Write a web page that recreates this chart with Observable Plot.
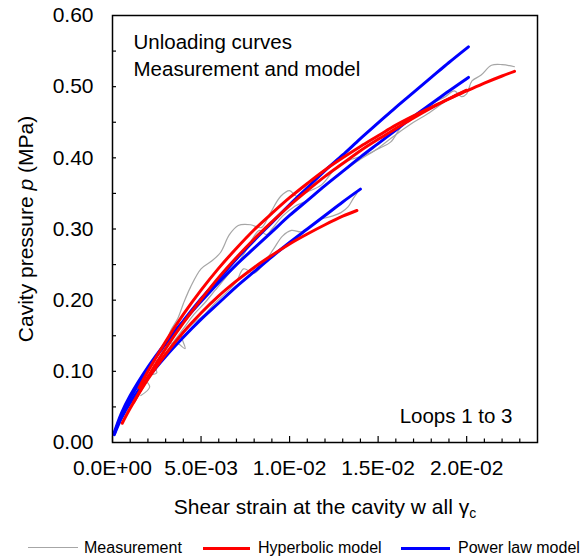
<!DOCTYPE html>
<html>
<head>
<meta charset="utf-8">
<script src="https://cdn.jsdelivr.net/npm/d3@7"></script>
<script src="https://cdn.jsdelivr.net/npm/@observablehq/plot@0.6"></script>
<style>
  html, body { margin: 0; padding: 0; background: #fff; }
  body { width: 588px; height: 559px; overflow: hidden; font-family: "Liberation Sans", Arial, sans-serif; }
  #chart svg { display: block; }
  #legend { position: relative; width: 588px; height: 34px; font-size: 16px; color: #000; }
  #legend .sw { position: absolute; height: 0; top: 23px; }
  #legend .lb { position: absolute; top: 14px; line-height: 18px; white-space: nowrap; }
</style>
</head>
<body>
<div id="chart"></div>
<div id="legend"></div>
<script>
// ---- data: [shear strain at the cavity wall, cavity pressure (MPa)] ----
const measLoop1 = [
  [0.0016,0.066],[0.0021,0.078],[0.0018,0.092],[0.0025,0.098],[0.0023,0.112],[0.0030,0.120],
  [0.0028,0.133],[0.0036,0.140],[0.0041,0.132],[0.0039,0.152],[0.0045,0.166],[0.0052,0.180],
  [0.0058,0.196],[0.0064,0.210],[0.0070,0.226],[0.0074,0.244],[0.0080,0.238],[0.0086,0.254],
  [0.0091,0.272],[0.0096,0.290],[0.0101,0.298],[0.0107,0.296],[0.0113,0.306],[0.0118,0.314],
  [0.0124,0.318],[0.0129,0.323],[0.0133,0.331],[0.0136,0.343],[0.0138,0.350]
];
const measLoop2 = [
  [0.0013,0.060],[0.0018,0.080],[0.0023,0.100],[0.0028,0.118],[0.0034,0.140],[0.0040,0.160],
  [0.0046,0.180],[0.0052,0.196],[0.0058,0.214],[0.0064,0.232],[0.0070,0.250],[0.0075,0.268],
  [0.0078,0.282],[0.0083,0.298],[0.0087,0.292],[0.0090,0.300],[0.0096,0.318],[0.0103,0.332],
  [0.0110,0.340],[0.0118,0.356],[0.0125,0.372],[0.0132,0.384],[0.0140,0.398],[0.0148,0.410],
  [0.0156,0.425],[0.0163,0.438],[0.0170,0.450],[0.0178,0.462],[0.0186,0.476],[0.0193,0.488],
  [0.0200,0.496]
];
const measLoop3 = [
  [0.0014,0.075],[0.0018,0.092],[0.0022,0.110],[0.0026,0.125],[0.0030,0.140],[0.0033,0.158],
  [0.0037,0.175],[0.0040,0.195],[0.0044,0.218],[0.0050,0.244],[0.0056,0.255],[0.0061,0.267],
  [0.0066,0.292],[0.0071,0.305],[0.0078,0.306],[0.0084,0.302],[0.0089,0.322],[0.0095,0.346],
  [0.0100,0.354],[0.0104,0.346],[0.0110,0.352],[0.0118,0.362],[0.0127,0.388],[0.0135,0.398],
  [0.0143,0.404],[0.0151,0.414],[0.0157,0.422],[0.0162,0.440],[0.0167,0.456],[0.0174,0.462],
  [0.0182,0.478],[0.0188,0.486],[0.0193,0.494],[0.0197,0.486],[0.0200,0.490],[0.0203,0.508],
  [0.0208,0.516],[0.0214,0.530],[0.0220,0.531],[0.0227,0.528]
];
const hypLoop1 = [
  [0.00055,0.027],[0.001,0.048],[0.002,0.089],[0.003,0.124],[0.004,0.155],[0.005,0.182],
  [0.006,0.206],[0.007,0.227],[0.008,0.246],[0.009,0.263],[0.010,0.279],[0.011,0.293],
  [0.012,0.306],[0.013,0.318],[0.0138,0.326]
];
const hypLoop2 = [
  [0.0012,0.057],[0.002,0.092],[0.003,0.132],[0.004,0.168],[0.005,0.201],[0.006,0.232],
  [0.007,0.260],[0.008,0.286],[0.009,0.310],[0.010,0.333],[0.011,0.354],[0.012,0.374],
  [0.013,0.392],[0.014,0.410],[0.015,0.426],[0.016,0.441],[0.017,0.456],[0.018,0.470],
  [0.019,0.483],[0.020,0.495]
];
const hypLoop3 = [
  [0.0015,0.077],[0.002,0.100],[0.003,0.142],[0.004,0.180],[0.005,0.214],[0.006,0.245],
  [0.007,0.273],[0.008,0.299],[0.009,0.322],[0.010,0.344],[0.011,0.364],[0.012,0.383],
  [0.013,0.400],[0.014,0.416],[0.015,0.431],[0.016,0.446],[0.017,0.459],[0.018,0.471],
  [0.019,0.483],[0.020,0.494],[0.021,0.505],[0.022,0.515],[0.0227,0.5215]
];
const powLoop1 = [
  [0.0001,0.011],[0.0005,0.034],[0.001,0.056],[0.002,0.091],[0.003,0.121],[0.004,0.148],
  [0.005,0.173],[0.006,0.196],[0.007,0.219],[0.008,0.240],[0.009,0.261],[0.010,0.281],
  [0.011,0.300],[0.012,0.319],[0.013,0.338],[0.014,0.356]
];
const powLoop2 = [
  [0.0001,0.014],[0.0005,0.041],[0.001,0.066],[0.002,0.106],[0.003,0.140],[0.004,0.170],
  [0.005,0.198],[0.006,0.225],[0.007,0.250],[0.008,0.273],[0.009,0.296],[0.010,0.319],
  [0.011,0.340],[0.012,0.361],[0.013,0.381],[0.014,0.401],[0.015,0.420],[0.016,0.439],
  [0.017,0.458],[0.018,0.476],[0.019,0.494],[0.0201,0.513]
];
const powLoop3 = [
  [0.0001,0.012],[0.0005,0.038],[0.001,0.062],[0.002,0.103],[0.003,0.139],[0.004,0.171],
  [0.005,0.202],[0.006,0.230],[0.007,0.258],[0.008,0.284],[0.009,0.309],[0.010,0.334],
  [0.011,0.358],[0.012,0.382],[0.013,0.404],[0.014,0.427],[0.015,0.449],[0.016,0.471],
  [0.017,0.492],[0.018,0.513],[0.019,0.534],[0.0201,0.556]
];
const xMajorTicks = [0, 0.005, 0.010, 0.015, 0.020];
const xMinorTicks = [0.001,0.002,0.003,0.004,0.006,0.007,0.008,0.009,0.011,0.012,0.013,0.014,0.016,0.017,0.018,0.019,0.021,0.022,0.023];
const yLabelTicks = [0, 0.1, 0.2, 0.3, 0.4, 0.5, 0.6];
const yTickMarks = [0.05, 0.1, 0.15, 0.2, 0.25, 0.3, 0.35, 0.4, 0.45, 0.5, 0.55];
const seriesNames = ["Measurement", "Hyperbolic model", "Power law model"];
const seriesColors = ["#a6a6a6", "#ff0000", "#0000ff"];

// ---- table built from the arrays ----
function rows(arr, series, loop) {
  return arr.map(([strain, pressure]) => ({strain, pressure, series, loop}));
}
const measRows = [...rows(measLoop1,"Measurement",1), ...rows(measLoop2,"Measurement",2), ...rows(measLoop3,"Measurement",3)];
const hypRows  = [...rows(hypLoop1,"Hyperbolic model",1), ...rows(hypLoop2,"Hyperbolic model",2), ...rows(hypLoop3,"Hyperbolic model",3)];
const powRows  = [...rows(powLoop1,"Power law model",1), ...rows(powLoop2,"Power law model",2), ...rows(powLoop3,"Power law model",3)];

function fmtSci(v) {
  if (v === 0) return "0.0E+00";
  const e = Math.floor(Math.log10(Math.abs(v)) + 1e-9);
  const m = v / Math.pow(10, e);
  return m.toFixed(1) + "E" + (e < 0 ? "-" : "+") + String(Math.abs(e)).padStart(2, "0");
}

const font = '"Liberation Sans", Arial, Helvetica, sans-serif';
const chart = Plot.plot({
  width: 588,
  height: 525,
  marginLeft: 112,
  marginRight: 51,
  marginTop: 15,
  marginBottom: 83,
  style: {fontFamily: font, fontSize: "21px", color: "#000", background: "#fff", overflow: "visible"},
  x: {domain: [0, 0.024]},
  y: {domain: [0, 0.6]},
  marks: [
    Plot.line(measRows, {x: "strain", y: "pressure", z: "loop", stroke: seriesColors[0], strokeWidth: 1.2, curve: "catmull-rom"}),
    Plot.line(powRows, {x: "strain", y: "pressure", z: "loop", stroke: seriesColors[2], strokeWidth: 3, curve: "catmull-rom"}),
    Plot.line(hypRows, {x: "strain", y: "pressure", z: "loop", stroke: seriesColors[1], strokeWidth: 3, curve: "catmull-rom"}),
    Plot.axisX({ticks: xMinorTicks, tickSize: -3.5, fill: "none", label: null, strokeWidth: 1.2}),
    Plot.axisX({ticks: xMajorTicks, tickSize: -6, fill: "none", label: null, strokeWidth: 1.2}),
    Plot.axisX({ticks: xMajorTicks, tickSize: 0, tickPadding: 18, tickFormat: fmtSci, fontSize: 21,
      label: "Shear strain at the cavity w all γc", labelAnchor: "center", labelOffset: 71}),
    Plot.axisY({ticks: yTickMarks, tickSize: -4, fill: "none", label: null, strokeWidth: 1.2}),
    Plot.axisY({ticks: yLabelTicks, tickSize: 0, tickPadding: 19, tickFormat: d3.format(".2f"), fontSize: 21,
      label: "Cavity pressure p (MPa)", labelAnchor: "center", labelOffset: 94}),
    Plot.frame({stroke: "#000", strokeWidth: 1.5}),
    Plot.text(["Unloading curves\nMeasurement and model"], {text: d => d, frameAnchor: "top-left", dx: 21, dy: 15,
      lineAnchor: "top", textAnchor: "start", fontSize: 20.5, lineHeight: 1.3, fill: "#000"}),
    Plot.text(["Loops 1 to 3"], {text: d => d, frameAnchor: "bottom-right", dx: -25, dy: -20,
      lineAnchor: "bottom", textAnchor: "end", fontSize: 20.5, fill: "#000"})
  ]
});
document.getElementById("chart").appendChild(chart);

// rich axis labels (italic p, subscript c)
const svg = d3.select(chart);
const yl = svg.select('g[aria-label="y-axis label"] text');
if (!yl.empty()) {
  yl.text(null);
  yl.append("tspan").text("Cavity pressure ");
  yl.append("tspan").attr("font-style", "italic").text("p");
  yl.append("tspan").text(" (MPa)");
}
const xl = svg.select('g[aria-label="x-axis label"] text');
if (!xl.empty()) {
  xl.text(null);
  xl.append("tspan").text("Shear strain at the cavity w all ");
  xl.append("tspan").text("γ");
  xl.append("tspan").attr("font-size", "14px").attr("dy", "0.3em").text("c");
}

// legend
const legendPos = [[28, 50, 84], [203, 47, 258], [401, 49, 458]];
const lg = d3.select("#legend");
seriesNames.forEach((name, i) => {
  const [lx, lw, tx] = legendPos[i];
  lg.append("div").attr("class", "sw")
    .style("left", lx + "px").style("width", lw + "px")
    .style("border-top", (i === 0 ? 1.5 : 3) + "px solid " + seriesColors[i])
    .style("margin-top", (i === 0 ? -0.75 : -1.5) + "px");
  lg.append("div").attr("class", "lb").style("left", tx + "px").text(name);
});
</script>
</body>
</html>
